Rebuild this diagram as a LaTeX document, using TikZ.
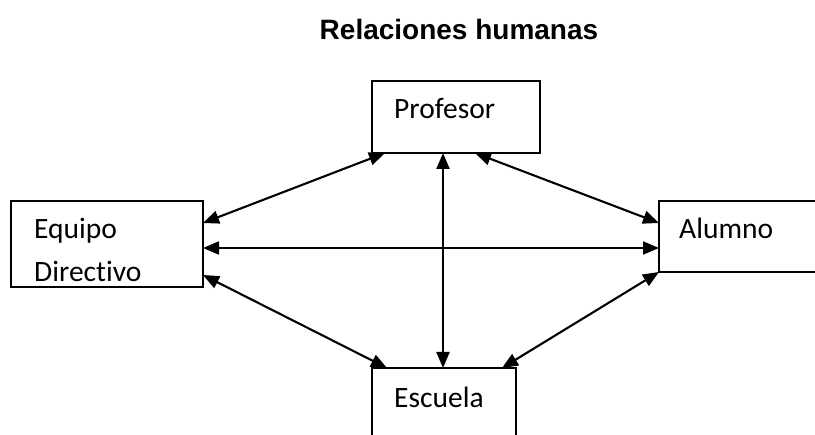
\documentclass[tikz,border=0pt]{standalone}
\usepackage{fontspec}
\setmainfont{Carlito}[RawFeature=-liga]
\newfontfamily\titlefont{Liberation Sans}
\usetikzlibrary{arrows.meta}
\begin{document}
\begin{tikzpicture}[x=1pt,y=-1pt,
  box/.style={draw, line width=2.2pt, inner sep=0pt, outer sep=0pt, anchor=north west},
  lbl/.style={inner sep=0pt, anchor=base west, font=\fontsize{29.5}{31}\selectfont},
  rel/.style={{Triangle[length=16pt,width=13pt]}-{Triangle[length=16pt,width=13pt]}, line width=2.1pt}]
\clip (0,0) rectangle (815,435);
\fill[white] (0,0) rectangle (815,435);
% title
\node[inner sep=0pt, anchor=base, font=\titlefont\bfseries\fontsize{28}{30}\selectfont] (title) at (459,40) {Relaciones humanas};
% boxes
\node[box, minimum width=168pt, minimum height=72pt] (prof) at (372,81) {};
\node[box, minimum width=192pt, minimum height=86pt] (equi) at (11,201) {};
\node[box, minimum width=175pt, minimum height=71pt] (alum) at (659,201) {};
\node[box, minimum width=144pt, minimum height=90pt] (escu) at (372,368) {};
% labels
\node[lbl] (tprof) at (394,119) {Profesor};
\node[lbl] (tequi1) at (34,239) {Equipo};
\node[lbl] (tequi2) at (34,282) {Directivo};
\node[lbl] (talum) at (679,239) {Alumno};
\node[lbl] (tescu) at (394,408) {Escuela};
% relations
\draw[rel] ([yshift=-22pt]equi.north east) -- ([xshift=13pt]prof.south west);
\draw[rel] ([yshift=-47pt]equi.north east) -- ([yshift=-47pt]alum.north west);
\draw[rel] ([yshift=-74pt]equi.north east) -- ([xshift=15pt]escu.north west);
\draw[rel] ([xshift=71pt]prof.south west) -- ([xshift=71pt]escu.north west);
\draw[rel] ([xshift=103pt]prof.south west) -- ([yshift=-22pt]alum.north west);
\draw[rel] (alum.south west) -- ([xshift=130pt]escu.north west);
\end{tikzpicture}
\end{document}
